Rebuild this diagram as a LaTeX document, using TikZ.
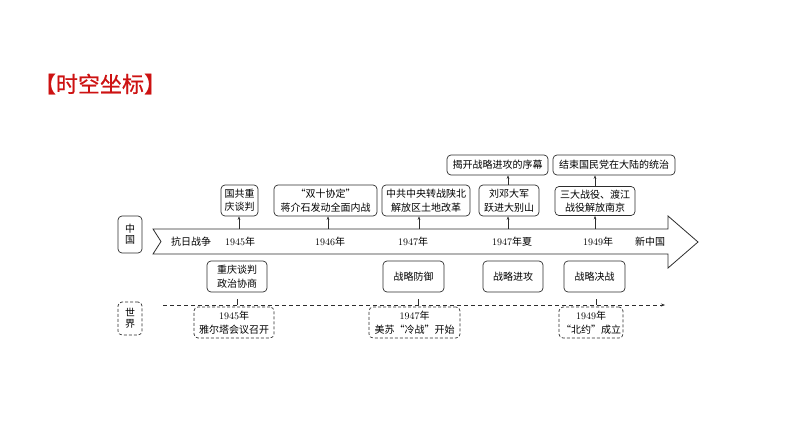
\documentclass[tikz,border=0pt]{standalone}
\usepackage{fontspec}
\newfontfamily\cjk{Noto Sans CJK SC}
\newfontfamily\cjkt[FakeBold=0.6]{Noto Sans CJK SC}
\usetikzlibrary{arrows.meta}
\definecolor{titlered}{RGB}{205,18,18}
\definecolor{ink}{RGB}{45,45,45}
\newcommand\yr[1]{{\rmfamily #1}}
\begin{document}
\begin{tikzpicture}[x=1pt,y=-1pt,
  font=\cjk\fontsize{10}{13.5}\selectfont,
  box/.style={draw=ink, rounded corners=4pt, line width=0.7pt, align=center, inner sep=1pt},
  dbox/.style={box, dashed, dash pattern=on 3pt off 2pt},
  side/.style={font=\cjk\fontsize{10}{11}\selectfont},
  conn/.style={draw=ink, -{Stealth[length=3.5pt,width=2.6pt]}, line width=0.5pt},
  lbl/.style={inner sep=0pt, text=black}]
\useasboundingbox (0,0) rectangle (794,447);

% title
\node[text=titlered, font=\cjkt\fontsize{22}{26}\selectfont, inner sep=0pt] (title) at (100,84) {【时空坐标】};

% main arrow
\draw[ink, line width=0.8pt, fill=white]
  (153,229) -- (668,229) -- (668,216) -- (698,242) -- (668,268) -- (668,254) -- (153,254) -- (161,241.5) -- cycle;

% labels on arrow
\node[lbl] (l0) at (191,242) {抗日战争};
\node[lbl] (l1) at (240,242) {\yr{1945}年};
\node[lbl] (l2) at (330,242) {\yr{1946}年};
\node[lbl] (l3) at (413,242) {\yr{1947}年};
\node[lbl] (l4) at (512,242) {\yr{1947}年夏};
\node[lbl] (l5) at (598,242) {\yr{1949}年};
\node[lbl] (l6) at (650,242) {新中国};

% side labels
\node[box, side, minimum width=24pt, minimum height=37pt] (cn) at (130,234.5) {中\\国};
\node[dbox, side, minimum width=24pt, minimum height=33pt] (wd) at (130,318.5) {世\\界};

% upper boxes
\node[box, minimum width=37pt, minimum height=31pt] (a1) at (239.5,200.5) {国共重\\庆谈判};
\node[box, minimum width=103pt, minimum height=31pt] (a2) at (325.5,200.5) {“双十协定”\\蒋介石发动全面内战};
\node[box, minimum width=88pt, minimum height=31pt] (a3) at (426,200.5) {中共中央转战陕北\\解放区土地改革};
\node[box, minimum width=60pt, minimum height=31pt] (a4) at (509,200.5) {刘邓大军\\跃进大别山};
\node[box, minimum width=80pt, minimum height=29pt] (a5) at (595,201) {三大战役、渡江\\战役解放南京};
\node[box, minimum width=101pt, minimum height=20pt] (t4) at (497.5,165) {揭开战略进攻的序幕};
\node[box, minimum width=122pt, minimum height=20pt] (t5) at (614,165) {结束国民党在大陆的统治};

% connectors from arrow
\coordinate (c1) at (239,229);
\coordinate (c2) at (328,229);
\coordinate (c3) at (419,229);
\coordinate (c4) at (508,229);
\coordinate (c5) at (595,229);
\draw[conn] (c1) -- (c1 |- a1.south);
\draw[conn] (c2) -- (c2 |- a2.south);
\draw[conn] (c3) -- (c3 |- a3.south);
\draw[conn] (c4) -- (c4 |- a4.south);
\draw[conn] (c5) -- (c5 |- a5.south);
\draw[conn] (c4 |- a4.north) -- (c4 |- t4.south);
\draw[conn] (c5 |- a5.north) -- (c5 |- t5.south);

% lower boxes
\node[box, minimum width=60pt, minimum height=31pt] (b1) at (237,276.5) {重庆谈判\\政治协商};
\node[box, minimum width=61pt, minimum height=31pt] (b2) at (413.5,276.5) {战略防御};
\node[box, minimum width=60pt, minimum height=31pt] (b3) at (513,276.5) {战略进攻};
\node[box, minimum width=61pt, minimum height=31pt] (b4) at (594.5,276.5) {战略决战};

% world timeline
\coordinate (d0) at (163,305);
\coordinate (d1) at (665,305);
\draw[ink, line width=0.6pt, dashed, dash pattern=on 4pt off 3pt, -{Stealth[length=4pt,width=3pt]}] (d0) -- (d1);
\coordinate (k1) at (237,305);
\coordinate (k2) at (418,305);
\coordinate (k3) at (596,305);
\draw[ink, line width=0.6pt] (k1) -- ++(0,-6);
\draw[ink, line width=0.6pt] (k2) -- ++(0,-6);
\draw[ink, line width=0.6pt] (k3) -- ++(0,-6);

\node[dbox, minimum width=80pt, minimum height=31pt] (w1) at (234,322.5) {\yr{1945}年\\雅尔塔会议召开};
\node[dbox, minimum width=91pt, minimum height=31pt] (w2) at (414.5,322.5) {\yr{1947}年\\美苏“冷战”开始};
\node[dbox, minimum width=64pt, minimum height=31pt] (w3) at (591,322.5) {\yr{1949}年\\“北约”成立};
\end{tikzpicture}
\end{document}
